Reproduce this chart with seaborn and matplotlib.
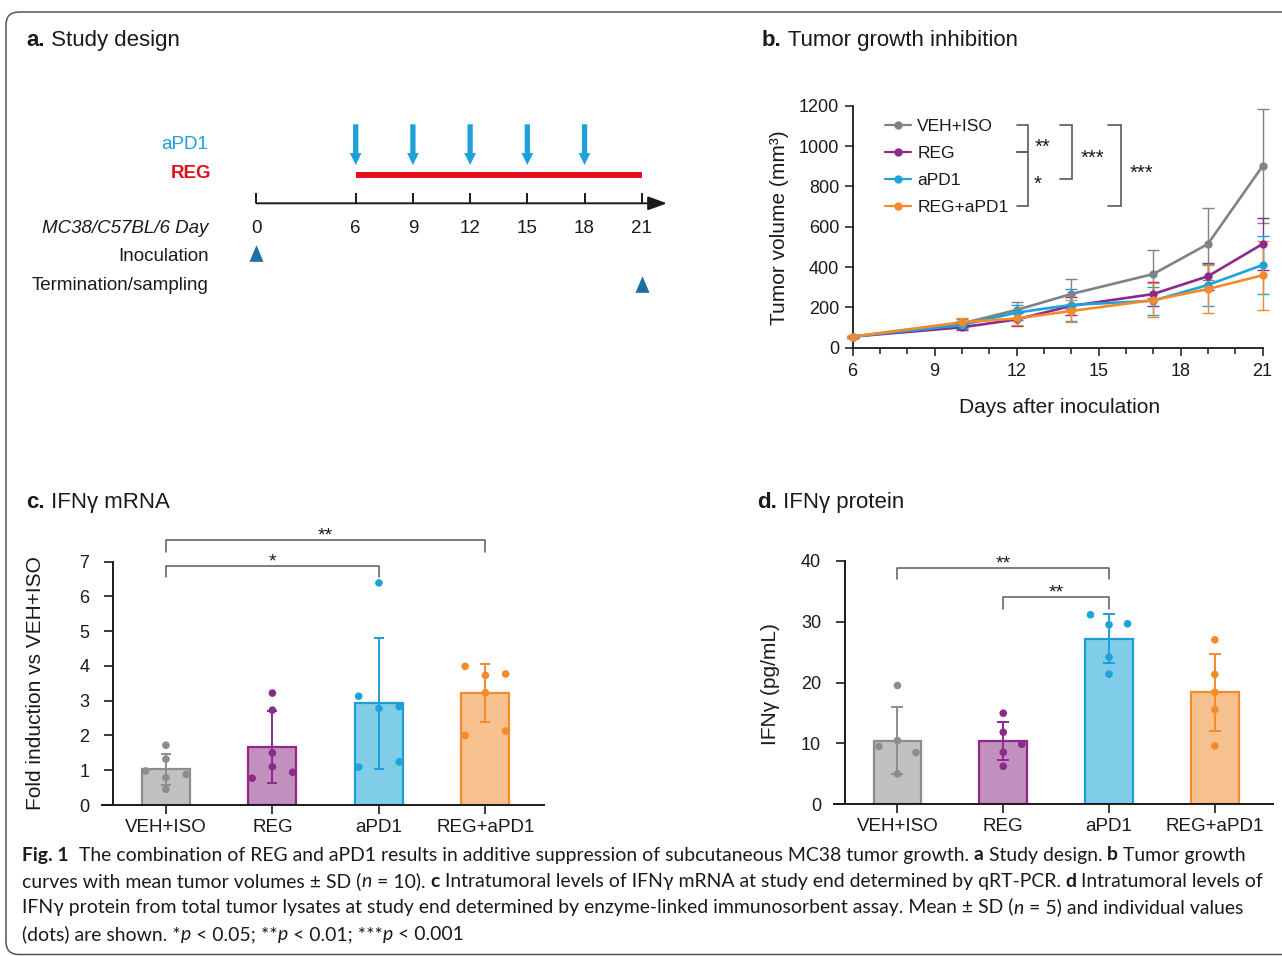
import numpy as np
import pandas as pd
import matplotlib
matplotlib.use("Agg")
import matplotlib.pyplot as plt
import seaborn as sns
from matplotlib import font_manager
from matplotlib.lines import Line2D
from matplotlib.patches import FancyBboxPatch
from matplotlib.transforms import IdentityTransform
from matplotlib.ticker import MultipleLocator

# ------------------------------------------------------------------ data
groups = ["VEH+ISO", "REG", "aPD1", "REG+aPD1"]

# a. study design (days)
timeline_days = [0, 6, 9, 12, 15, 18, 21]
apd1_dose_days = [6, 9, 12, 15, 18]
reg_dosing = [6, 21]
inoculation_day = 0
termination_day = 21

# b. tumour growth, mean and SD (mm3)
growth_days = [6, 10, 12, 14, 17, 19, 21]
vol_veh = [55, 120, 187, 266, 365, 514, 900]
sd_veh = [5, 20, 40, 73, 120, 180, 283]
vol_reg = [55, 101, 140, 207, 266, 354, 514]
sd_reg = [5, 15, 33, 45, 60, 67, 130]
vol_apd1 = [55, 112, 174, 212, 233, 311, 410]
sd_apd1 = [5, 18, 38, 80, 70, 103, 145]
vol_combo = [55, 126, 145, 182, 236, 291, 359]
sd_combo = [5, 22, 30, 53, 85, 117, 170]

# c. IFNg mRNA fold induction
mrna_mean = [1.03, 1.67, 2.93, 3.22]
mrna_sd = [0.45, 1.03, 1.88, 0.83]
mrna_veh = [1.72, 1.32, 0.98, 0.88, 0.79, 0.45]
mrna_reg = [3.22, 2.73, 1.50, 1.10, 0.77, 0.94]
mrna_apd1 = [6.39, 3.13, 2.78, 2.83, 1.09, 1.24]
mrna_combo = [3.99, 3.73, 3.77, 3.23, 2.00, 2.13]

# d. IFNg protein (pg/mL)
prot_mean = [10.47, 10.36, 27.18, 18.36]
prot_sd = [5.45, 3.15, 4.05, 6.35]
prot_veh = [19.5, 10.47, 9.48, 8.49, 4.99]
prot_reg = [14.96, 11.84, 9.86, 8.55, 6.25]
prot_apd1 = [31.12, 29.48, 29.64, 24.16, 21.37]
prot_combo = [27.01, 21.32, 18.41, 15.56, 9.59]

# significance labels
sig_growth = ["**", "*", "***", "***"]
sig_mrna = ["*", "**"]
sig_prot = ["**", "**"]

# ------------------------------------------------------------------ style
# horizontal placement of the dots inside each bar (-1 left, 0 centre, 1 right)
mrna_side = [[0, 0, -1, 1, 0, 0], [0, 0, 0, 0, -1, 1],
             [0, -1, 0, 1, -1, 1], [-1, 0, 1, 0, -1, 1]]
prot_side = [[0, 0, -1, 1, 0], [0, 0, 1, 0, 0],
             [-1, 0, 1, 0, 0], [0, 0, 0, 0, 0]]

line_colors = ["#808285", "#8b2a8b", "#1ea3d9", "#f58a2b"]
bar_fill = ["#bfc1c3", "#c190bf", "#80cde9", "#f7c08f"]
bar_edge = ["#8a8c8e", "#8b2a8b", "#1c9fd6", "#f58a2b"]
dot_colors = ["#8a8c8e", "#8b2a8b", "#1ca3da", "#f58a2b"]
INK = "#1a1a1a"
BRACKET = "#5a5a5a"

sns.set_theme(style="ticks")
plt.rcParams["font.family"] = ["Liberation Sans", "DejaVu Sans"]
plt.rcParams["text.color"] = INK
plt.rcParams["axes.edgecolor"] = INK
plt.rcParams["xtick.color"] = INK
plt.rcParams["ytick.color"] = INK
plt.rcParams["axes.labelcolor"] = INK

W, H = 1282, 956
fig = plt.figure(figsize=(W / 100, H / 100), dpi=100)
fig.patch.set_facecolor("white")
renderer = fig.canvas.get_renderer()


def add_px_axes(left, top, right, bottom):
    return fig.add_axes([left / W, 1 - bottom / H, (right - left) / W, (bottom - top) / H])


def text_width(s, **kw):
    t1 = fig.text(0, 0, "|" + s + "|", **kw)
    w1 = t1.get_window_extent(renderer).width
    t1.remove()
    t2 = fig.text(0, 0, "||", **kw)
    w2 = t2.get_window_extent(renderer).width
    t2.remove()
    return w1 - w2


def draw_runs(x_px, base_px, runs, size, family):
    x = x_px
    for s, style in runs:
        kw = dict(fontsize=size, family=family, color=INK)
        if style == "b":
            kw["fontweight"] = "bold"
        elif style == "i":
            kw["fontstyle"] = "italic"
        fig.text(x / W, 1 - base_px / H, s, va="baseline", ha="left", **kw)
        x += text_width(s, **kw)
    return x


# ------------------------------------------------------------------ border
fig.add_artist(FancyBboxPatch((6, 1.5), 1320, 942.5,
                              boxstyle="round,pad=0,rounding_size=13",
                              transform=IdentityTransform(), fill=False,
                              ec="#555555", lw=1.1))

# ------------------------------------------------------------------ titles
TITLE_FONT = ["Liberation Sans", "DejaVu Sans"]
draw_runs(26, 46, [("a.", "b"), (" Study design", "n")], 16, TITLE_FONT)
draw_runs(762, 46, [("b.", "b"), (" Tumor growth inhibition", "n")], 16, TITLE_FONT)
draw_runs(26, 508, [("c.", "b"), (" IFNγ mRNA", "n")], 16, TITLE_FONT)
draw_runs(757, 508, [("d.", "b"), (" IFNγ protein", "n")], 16, TITLE_FONT)

# ------------------------------------------------------------------ panel a
K = 19.07           # pixels per day on the schematic
ax_a = add_px_axes(0, 100, 700, 310)
ax_a.set_xlim(6 - 355.7 / K, 6 + (700 - 355.7) / K)
ax_a.set_ylim(310, 100)
ax_a.axis("off")


def tpos(d):
    # the gap between inoculation and first dose is drawn compressed
    return d if d > 0 else 0.79


AX_Y = 203.3
ax_a.annotate("", xy=(tpos(timeline_days[-1]) + 1.32, AX_Y), xytext=(tpos(timeline_days[0]), AX_Y),
              arrowprops=dict(arrowstyle="-|>,head_length=1.15,head_width=0.42", mutation_scale=10,
                              lw=1.4, color=INK, shrinkA=0, shrinkB=0))
for d in timeline_days:
    ax_a.plot([tpos(d), tpos(d)], [192.7, AX_Y], color=INK, lw=1.4, solid_capstyle="butt")
    ax_a.text(tpos(d), 228.3, str(d), ha="center", va="center", fontsize=13.5)

for d in apd1_dose_days:
    ax_a.annotate("", xy=(tpos(d), 165), xytext=(tpos(d), 124.3),
                  arrowprops=dict(arrowstyle="simple,head_length=0.86,head_width=0.84,tail_width=0.38",
                                  mutation_scale=10, lw=0, color="#1da1d8", shrinkA=0, shrinkB=0))
ax_a.plot([tpos(reg_dosing[0]), tpos(reg_dosing[1])], [174.7, 174.7], color="#e30f1b", lw=4.3,
          solid_capstyle="butt")
tri = [(-0.84, -1), (0.84, -1), (0, 1)]
ax_a.plot(tpos(inoculation_day), 253.3, marker=tri, ms=12, color="#1d6fa5", mew=0)
ax_a.plot(tpos(termination_day), 283.7, marker=tri, ms=12, color="#1d6fa5", mew=0)

lab_x = 6 - (355.7 - 208.5) / K
ax_a.text(lab_x, 144.3, "aPD1", color="#1da1d8", ha="right", va="center", fontsize=13.5)
ax_a.text(6 - (355.7 - 211.7) / K, 173.3, "REG", color="#e30f1b", ha="right", va="center",
          fontsize=13.5, fontweight="bold")
ax_a.text(lab_x, 228.3, "MC38/C57BL/6 Day", ha="right", va="center", fontsize=13.5, fontstyle="italic")
ax_a.text(lab_x, 256.7, "Inoculation", ha="right", va="center", fontsize=13.5)
ax_a.text(lab_x, 285, "Termination/sampling", ha="right", va="center", fontsize=13.5)

# ------------------------------------------------------------------ panel b
ax_b = add_px_axes(852.5, 105.7, 1262.5, 347.7)
vols = [vol_veh, vol_reg, vol_apd1, vol_combo]
sds = [sd_veh, sd_reg, sd_apd1, sd_combo]
df_b = pd.concat([pd.DataFrame({"day": growth_days, "volume": v, "sd": s, "group": g})
                  for g, v, s in zip(groups, vols, sds)], ignore_index=True)

for g, c in zip(groups, line_colors):
    sub = df_b[df_b["group"] == g]
    eb = ax_b.errorbar(sub["day"], sub["volume"], yerr=sub["sd"], fmt="none", ecolor=c,
                       elinewidth=1.0, capsize=4.5, capthick=1.0, zorder=2)
    for art in list(eb.lines[1]) + list(eb.lines[2]):
        art.set_clip_on(False)
sns.lineplot(data=df_b, x="day", y="volume", hue="group", hue_order=groups, palette=line_colors,
             marker="o", markersize=6, markeredgewidth=0, linewidth=1.9, errorbar=None,
             legend=False, ax=ax_b, zorder=3)
for ln in ax_b.lines:
    ln.set_clip_on(False)

ax_b.set_xlim(6, 21)
ax_b.set_ylim(0, 1200)
ax_b.set_xticks([6, 9, 12, 15, 18, 21])
ax_b.xaxis.set_minor_locator(MultipleLocator(1))
ax_b.set_yticks(range(0, 1201, 200))
ax_b.tick_params(axis="both", which="major", labelsize=13, length=6, width=1.1, direction="out")
ax_b.tick_params(axis="x", which="major", pad=5)
ax_b.tick_params(axis="y", which="major", pad=3.5)
ax_b.tick_params(axis="x", which="minor", length=4, width=1.1)
for side in ["top", "right"]:
    ax_b.spines[side].set_visible(False)
for side in ["left", "bottom"]:
    ax_b.spines[side].set_linewidth(1.3)
ax_b.set_xlabel("Days after inoculation", fontsize=15)
ax_b.set_ylabel("Tumor volume (mm³)", fontsize=15)
ax_b.xaxis.set_label_coords(0.505, -0.208)
ax_b.yaxis.set_label_coords(-0.154, 0.495)

handles = [Line2D([], [], color=c, marker="o", markersize=6, markeredgewidth=0, lw=1.6)
           for c in line_colors]
ax_b.legend(handles, groups, loc="upper left", bbox_to_anchor=(0.08, 0.944), frameon=False,
            borderpad=0, borderaxespad=0, handlelength=1.5, handletextpad=0.35,
            labelspacing=0.67, fontsize=12.5)

STAR = 14.5


def side_bracket(ax, x0, x1, y0, y1, label, tx, ty):
    ax.plot([x0, x1, x1, x0], [y0, y0, y1, y1], transform=ax.transAxes, color=BRACKET,
            lw=1.2, clip_on=False, solid_joinstyle="miter")
    ax.text(tx, ty, label, transform=ax.transAxes, ha="center", va="baseline", fontsize=STAR)


side_bracket(ax_b, 0.402, 0.429, 0.921, 0.809, sig_growth[0], 0.464, 0.806)
side_bracket(ax_b, 0.402, 0.429, 0.809, 0.584, sig_growth[1], 0.452, 0.654)
side_bracket(ax_b, 0.507, 0.536, 0.921, 0.697, sig_growth[2], 0.586, 0.759)
side_bracket(ax_b, 0.624, 0.654, 0.921, 0.584, sig_growth[3], 0.705, 0.697)


# ------------------------------------------------------------------ panels c, d
def bar_panel(ax, means, sdevs, dots, sides, spread, capsize, ymax, ystep):
    pos = np.arange(len(groups))
    sns.barplot(x=pos, y=means, hue=groups, hue_order=groups, palette=bar_fill, dodge=False,
                saturation=1, width=0.45, errorbar=None, legend=False, linewidth=1.6, ax=ax,
                zorder=1)
    for patch, ec in zip(ax.patches, bar_edge):
        patch.set_edgecolor(ec)
    for i in range(len(groups)):
        ax.errorbar(pos[i], means[i], yerr=sdevs[i], fmt="none", ecolor=bar_edge[i],
                    elinewidth=1.4, capsize=capsize, capthick=1.4, zorder=3)
    rows = []
    for i, (vals, sd_) in enumerate(zip(dots, sides)):
        for v, s in zip(vals, sd_):
            rows.append({"x": pos[i] + s * spread, "y": v, "group": groups[i]})
    df = pd.DataFrame(rows)
    sns.scatterplot(data=df, x="x", y="y", hue="group", hue_order=groups, palette=dot_colors,
                    s=30, linewidth=0, legend=False, ax=ax, zorder=4, clip_on=False)
    ax.set_xlim(-0.6, 3.55)
    ax.set_ylim(0, ymax)
    ax.set_yticks(np.arange(0, ymax + 0.01, ystep))
    ax.set_xticks(pos)
    ax.set_xticklabels(groups)
    ax.set_xlabel("")
    ax.spines["top"].set_visible(False)
    ax.spines["right"].set_visible(False)
    ax.spines["left"].set_position(("data", -0.5))
    ax.spines["left"].set_bounds(0, ymax)
    for side in ["left", "bottom"]:
        ax.spines[side].set_linewidth(1.4)
    ax.tick_params(axis="y", labelsize=13, length=6.8, width=1.2, pad=10)
    ax.tick_params(axis="x", labelsize=13.5, length=6.5, width=1.2, pad=3.5)


def top_bracket(ax, i, j, y, drop, label, ty):
    ax.plot([i, i, j, j], [y - drop, y, y, y - drop], color=BRACKET, lw=1.1, clip_on=False)
    ax.text((i + j) / 2, ty, label, ha="center", va="baseline", fontsize=STAR - 0.5, clip_on=False)


ax_c = add_px_axes(102, 561.7, 544, 805)
bar_panel(ax_c, mrna_mean, mrna_sd, [mrna_veh, mrna_reg, mrna_apd1, mrna_combo], mrna_side,
          0.19, 3.6, 7, 1)
ax_c.set_ylabel("Fold induction vs VEH+ISO", fontsize=15)
ax_c.yaxis.set_label_coords(-0.129, 0.50)
top_bracket(ax_c, 0, 2, 6.88, 0.32, sig_mrna[0], 6.86)
top_bracket(ax_c, 0, 3, 7.62, 0.33, sig_mrna[1], 7.61)

ax_d = add_px_axes(834, 560.7, 1273, 804.3)
bar_panel(ax_d, prot_mean, prot_sd, [prot_veh, prot_reg, prot_apd1, prot_combo], prot_side,
          0.175, 4.3, 40, 10)
ax_d.set_ylabel("IFNγ (pg/mL)", fontsize=15)
ax_d.yaxis.set_label_coords(-0.124, 0.495)
top_bracket(ax_d, 0, 2, 38.8, 1.8, sig_prot[0], 38.7)
top_bracket(ax_d, 1, 2, 33.96, 1.86, sig_prot[1], 34.0)

# ------------------------------------------------------------------ caption
names = {f.name for f in font_manager.fontManager.ttflist}
cap_main = next((f for f in ["Lato", "Open Sans", "Noto Sans"] if f in names), "DejaVu Sans")
CAP_FONT = [cap_main, "DejaVu Sans"]

cap_lines = [
    [("Fig. 1", "b"), ("  The combination of REG and aPD1 results in additive suppression of "
                       "subcutaneous MC38 tumor growth. ", "n"), ("a", "b"), (" Study design. ", "n"),
     ("b", "b"), (" Tumor growth", "n")],
    [("curves with mean tumor volumes ± SD (", "n"), ("n", "i"), (" = 10). ", "n"), ("c", "b"),
     (" Intratumoral levels of IFNγ mRNA at study end determined by qRT-PCR. ", "n"), ("d", "b"),
     (" Intratumoral levels of", "n")],
    [("IFNγ protein from total tumor lysates at study end determined by enzyme-linked "
      "immunosorbent assay. Mean ± SD (", "n"), ("n", "i"), (" = 5) and individual values", "n")],
    [("(dots) are shown. *", "n"), ("p", "i"), (" < 0.05; **", "n"), ("p", "i"),
     (" < 0.01; ***", "n"), ("p", "i"), (" < 0.001", "n")],
]


def runs_width(runs, size):
    tot = 0
    for s, style in runs:
        kw = dict(fontsize=size, family=CAP_FONT)
        if style == "b":
            kw["fontweight"] = "bold"
        elif style == "i":
            kw["fontstyle"] = "italic"
        tot += text_width(s, **kw)
    return tot


cap_size = 12 * 1221 / runs_width(cap_lines[0], 12)
for runs, base in zip(cap_lines, [860.5, 887, 913.5, 940]):
    draw_runs(22, base, runs, cap_size, CAP_FONT)

fig.savefig("out.png", dpi=100, facecolor="white")
